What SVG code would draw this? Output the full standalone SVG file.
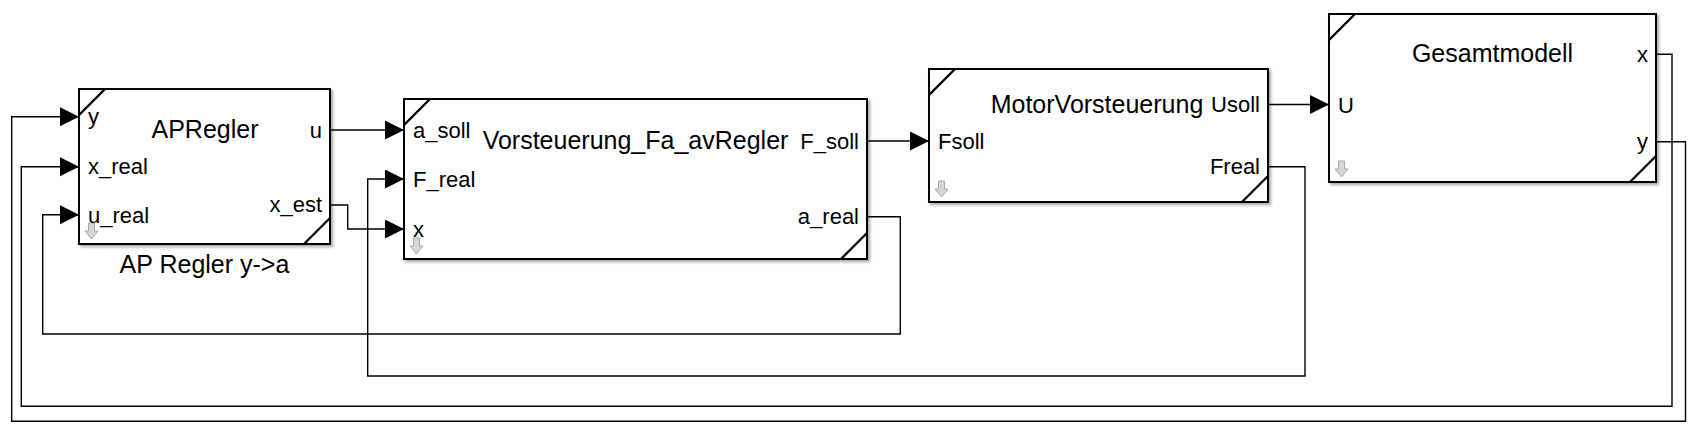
<svg xmlns="http://www.w3.org/2000/svg" width="1705" height="432" viewBox="0 0 1705 432">
<style>
.blk{fill:#fff;stroke:#000;stroke-width:2;filter:url(#sh)}
.cor{stroke:#000;stroke-width:2.4;fill:none}
.ico{fill:#d6d6d6;stroke:#a8a8a8;stroke-width:1}
.pl{font-family:"Liberation Sans",Arial,sans-serif;font-size:22px;fill:#000}
.tt{font-family:"Liberation Sans",Arial,sans-serif;font-size:25px;fill:#000;text-anchor:middle}
.r{text-anchor:end}
.cn{fill:none;stroke:#000;stroke-width:1.4;marker-end:url(#ah)}
</style>
<defs>
<filter id="sh" x="-5%" y="-5%" width="115%" height="120%">
<feDropShadow dx="2" dy="2" stdDeviation="1.5" flood-color="#000" flood-opacity="0.35"/>
</filter>
<marker id="ah" markerUnits="userSpaceOnUse" markerWidth="20" markerHeight="20" refX="19" refY="9.5" orient="auto">
<path d="M0,0 L19,9.5 L0,19 Z" fill="#000"/>
</marker>
<path id="dn" d="M3.5,0 H9.5 V8 H13 L6.5,16 L0,8 H3.5 Z"/>
</defs>
<rect width="1705" height="432" fill="#fff"/>

<g id="connectors">
<path class="cn" d="M330,130 H404"/>
<path class="cn" d="M330,205 H347.7 V229 H404"/>
<path class="cn" d="M867,141 H929"/>
<path class="cn" d="M1268,104.5 H1329"/>
<path class="cn" d="M1268,166.7 H1305 V376 H367.7 V179 H404"/>
<path class="cn" d="M867,216.7 H900.3 V334 H42.7 V214.7 H79"/>
<path class="cn" d="M1656,54.3 H1672 V406.3 H21.3 V166.7 H79"/>
<path class="cn" d="M1656,141.7 H1685.5 V421.3 H11.7 V116.7 H79"/>
</g>

<g id="APRegler">
<rect class="blk" x="79" y="89" width="251" height="155"/>
<path class="cor" d="M105,89 L79,115 M330,218 L304,244"/>
<use href="#dn" class="ico" x="85" y="223"/>
<text class="tt" x="205" y="138.3">APRegler</text>
<text class="pl" x="88" y="124">y</text>
<text class="pl" x="88" y="174">x_real</text>
<text class="pl" x="88" y="222.5">u_real</text>
<text class="pl r" x="322" y="138">u</text>
<text class="pl r" x="322" y="212">x_est</text>
<text class="tt" x="204.5" y="273.3">AP Regler y-&gt;a</text>
</g>

<g id="Vorsteuerung_Fa_avRegler">
<rect class="blk" x="404" y="99" width="463" height="160"/>
<path class="cor" d="M430,99 L404,125 M867,233 L841,259"/>
<use href="#dn" class="ico" x="410" y="238"/>
<text class="tt" x="635.5" y="149">Vorsteuerung_Fa_avRegler</text>
<text class="pl" x="413" y="137.5">a_soll</text>
<text class="pl" x="413" y="186.5">F_real</text>
<text class="pl" x="413" y="236.5">x</text>
<text class="pl r" x="859" y="149">F_soll</text>
<text class="pl r" x="859" y="223.5">a_real</text>
</g>

<g id="MotorVorsteuerung">
<rect class="blk" x="929" y="69" width="339" height="133"/>
<path class="cor" d="M955,69 L929,95 M1268,176 L1242,202"/>
<use href="#dn" class="ico" x="935" y="181"/>
<text class="tt" x="1097" y="113.3">MotorVorsteuerung</text>
<text class="pl" x="938" y="148.5">Fsoll</text>
<text class="pl r" x="1260" y="112">Usoll</text>
<text class="pl r" x="1260" y="174">Freal</text>
</g>

<g id="Gesamtmodell">
<rect class="blk" x="1329" y="14" width="327" height="168"/>
<path class="cor" d="M1355,14 L1329,40 M1656,156 L1630,182"/>
<use href="#dn" class="ico" x="1335" y="161"/>
<text class="tt" x="1492.5" y="62.3">Gesamtmodell</text>
<text class="pl" x="1338" y="113">U</text>
<text class="pl r" x="1648" y="62">x</text>
<text class="pl r" x="1648" y="149">y</text>
</g>
</svg>
